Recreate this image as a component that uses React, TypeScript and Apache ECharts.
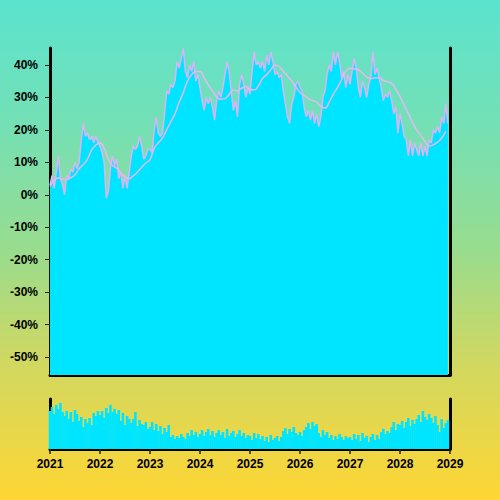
import React, { useEffect, useRef } from "react";
import * as echarts from "echarts";

// Half-monthly values (%), starting Jan 2021
const mainValues: number[] = [
  3, 6, 2, 7, 12, 5, 3, 0, 6, 5, 8, 7, 10, 8, 10, 17, 22, 18, 19, 17, 18, 16, 18, 16,
  15, 13, 10, -1, 1, 8, 12, 9, 11, 5, 7, 2, 6, 2, 7, 12, 15, 14, 15, 18, 15, 11, 12, 14,
  14, 13, 20, 24, 19, 18, 19, 25, 32, 31, 34, 33, 35, 41, 39, 42, 45, 38, 36, 40, 38, 41, 35, 37,
  33, 29, 26, 30, 28, 30, 27, 23, 29, 32, 30, 33, 37, 41, 38, 32, 26, 29, 24, 34, 37, 34, 30, 33,
  31, 38, 44, 40, 41, 39, 41, 38, 43, 40, 44, 41, 37, 38, 36, 37, 32, 28, 24, 22, 28, 30, 34, 35,
  33, 32, 27, 24, 26, 23, 26, 22, 25, 21, 24, 30, 32, 37, 40, 38, 44, 40, 44, 41, 36, 38, 33, 37,
  34, 38, 42, 39, 33, 30, 35, 33, 30, 34, 36, 44, 37, 39, 36, 33, 29, 31, 30, 32, 29, 25, 27, 19,
  25, 22, 18, 17, 12, 17, 12, 16, 14, 12, 16, 12, 15, 12, 17, 16, 20, 19, 21, 19, 24, 22, 28, 22,
];

// Monthly smoothed average (%), starting Jan 2021
const avgValues: number[] = [
  2.5, 4.5, 5.2, 4.8, 4.7, 5.3, 6.2, 8, 9.3, 11, 13.8, 15.3,
  16, 14.3, 11, 9, 8.2, 6.8, 5.6, 5, 5.8, 7, 8.5, 9.8,
  10.8, 14.3, 16, 17.5, 20, 22.5, 25, 28.5, 31.5, 35, 37, 38,
  38, 36, 33.8, 32, 30.2, 29.4, 29.6, 31, 32.3, 32, 32.8, 33.3,
  32.5, 32.3, 33.5, 35.8, 37, 38.5, 40, 39.5, 38, 36.5, 35, 33.2,
  31.5, 30.5, 29.7, 29, 28.5, 27.3, 26.7, 28.5, 31, 33, 35.5, 38,
  39, 38.8, 38.5, 37.5, 36.3, 35.8, 36, 36, 35.2, 34.8, 34.3, 32.5,
  30.3, 27.6, 25, 22.3, 20, 18.3, 16.4, 15, 15.4, 16.2, 17.5, 19.5,
];

// Half-monthly volumes
const volumeValues: number[] = [
  38, 42, 35, 44, 40, 46, 37, 33, 38, 30, 37, 27, 39, 35, 28, 32, 22, 30, 26, 31, 24, 36, 33, 38,
  34, 38, 31, 41, 36, 44, 37, 40, 35, 39, 28, 36, 24, 33, 30, 26, 30, 37, 23, 29, 25, 24, 27, 20,
  22, 27, 19, 25, 18, 23, 15, 21, 17, 24, 12, 14, 10, 13, 11, 15, 12, 10, 16, 13, 19, 14, 17, 12,
  15, 19, 13, 17, 20, 14, 18, 12, 16, 19, 14, 17, 11, 20, 13, 16, 18, 12, 15, 19, 13, 16, 11, 14,
  13, 9, 16, 11, 15, 10, 13, 8, 12, 7, 14, 9, 11, 13, 8, 12, 18, 21, 15, 20, 17, 22, 16, 14,
  17, 13, 19, 22, 26, 20, 27, 23, 25, 16, 12, 19, 14, 17, 11, 14, 9, 13, 10, 15, 12, 9, 13, 11,
  12, 9, 15, 10, 14, 8, 16, 11, 13, 7, 12, 15, 9, 14, 10, 17, 20, 15, 18, 16, 22, 27, 19, 25,
  24, 28, 21, 27, 31, 23, 29, 25, 30, 34, 27, 38, 32, 29, 35, 31, 26, 33, 24, 17, 30, 21, 26, 29,
];

const yearTicks: number[] = [2021, 2022, 2023, 2024, 2025, 2026, 2027, 2028, 2029];

const FONT = "'Liberation Sans', Arial, Helvetica, sans-serif";

export default function App() {
  const ref = useRef<HTMLDivElement>(null);

  useEffect(() => {
    if (!ref.current) return;
    const chart = echarts.init(ref.current, undefined, { renderer: "svg" });

    const mainData = mainValues.map((v, i) => [yearTicks[0] + i / 24, v]);
    const avgData = avgValues.map((v, i) => [yearTicks[0] + i / 12, v]);
    const volData = volumeValues.map((v, i) => [yearTicks[0] + i / 24, v]);

    const blackLine = { show: true, onZero: false, lineStyle: { color: "#000", width: 3 } };
    const xMin = yearTicks[0];
    const xMax = yearTicks[yearTicks.length - 1];

    chart.setOption({
      animation: false,
      backgroundColor: "transparent",
      grid: [
        { left: 50, right: 50, top: 48, bottom: 125 },
        { left: 50, right: 50, top: 399, bottom: 51 },
      ],
      xAxis: [
        {
          type: "value",
          gridIndex: 0,
          min: xMin,
          max: xMax,
          interval: 1,
          axisLine: blackLine,
          axisTick: { show: false },
          axisLabel: { show: false },
          splitLine: { show: false },
        },
        {
          type: "value",
          gridIndex: 1,
          min: xMin,
          max: xMax,
          interval: 1,
          axisLine: blackLine,
          axisTick: { show: true, length: 5, lineStyle: { color: "#222", width: 1.5 } },
          axisLabel: {
            show: true,
            margin: 9,
            color: "#000",
            fontSize: 12,
            fontWeight: "bold",
            fontFamily: FONT,
            formatter: (v: number) => String(v),
          },
          splitLine: { show: false },
        },
      ],
      yAxis: [
        {
          type: "value",
          gridIndex: 0,
          position: "left",
          min: -55.5,
          max: 45.2,
          splitNumber: 10,
          axisLine: blackLine,
          axisTick: { show: true, length: 5, lineStyle: { color: "#222", width: 1 } },
          axisLabel: {
            show: true,
            margin: 12,
            color: "#000",
            fontSize: 12,
            fontWeight: "bold",
            fontFamily: FONT,
            showMinLabel: false,
            showMaxLabel: false,
            formatter: (v: number) => v + "%",
          },
          splitLine: { show: false },
        },
        {
          type: "value",
          gridIndex: 0,
          position: "right",
          min: -55.5,
          max: 45.2,
          axisLine: blackLine,
          axisTick: { show: false },
          axisLabel: { show: false },
          splitLine: { show: false },
        },
        {
          type: "value",
          gridIndex: 1,
          position: "left",
          min: 0,
          max: 50,
          axisLine: blackLine,
          axisTick: { show: false },
          axisLabel: { show: false },
          splitLine: { show: false },
        },
        {
          type: "value",
          gridIndex: 1,
          position: "right",
          min: 0,
          max: 50,
          axisLine: blackLine,
          axisTick: { show: false },
          axisLabel: { show: false },
          splitLine: { show: false },
        },
      ],
      series: [
        {
          type: "line",
          xAxisIndex: 0,
          yAxisIndex: 0,
          data: mainData,
          showSymbol: false,
          lineStyle: { color: "#d7b5f7", width: 1.5 },
          areaStyle: { color: "#00e5ff", opacity: 1, origin: "start" },
          z: 2,
        },
        {
          type: "line",
          xAxisIndex: 0,
          yAxisIndex: 0,
          data: avgData,
          smooth: true,
          showSymbol: false,
          lineStyle: { color: "#e6b8f3", width: 1.5 },
          z: 3,
        },
        {
          type: "bar",
          xAxisIndex: 1,
          yAxisIndex: 2,
          data: volData,
          barWidth: 2.6,
          itemStyle: { color: "#00e5ff" },
          z: 1,
        },
      ],
    });

    return () => chart.dispose();
  }, []);

  return (
    <div
      style={{
        position: "fixed",
        left: 0,
        top: 0,
        width: 500,
        height: 500,
        background:
          "linear-gradient(180deg, #5be3cf 0%, #74e0b5 25%, #98dc8e 50%, #cfd862 72%, #ffd633 100%)",
      }}
    >
      <div ref={ref} style={{ width: 500, height: 500 }} />
    </div>
  );
}
